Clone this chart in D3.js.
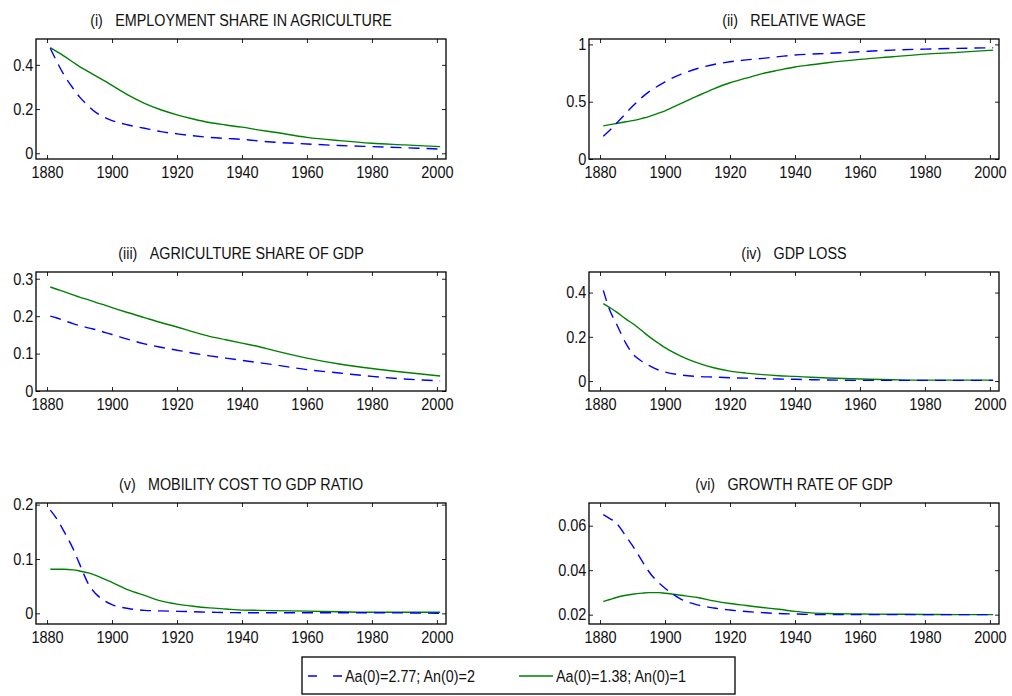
<!DOCTYPE html>
<html>
<head>
<meta charset="utf-8">
<script src="https://cdn.jsdelivr.net/npm/d3@7"></script>
<style>
  body { margin: 0; background: #fff; }
  svg { display: block; font-family: "Liberation Sans", Arial, sans-serif; }
  .tick text { font-size: 16.5px; fill: #111; }
  .title { font-size: 16.3px; fill: #111; }
  .legend-label { font-size: 16.3px; fill: #111; }
</style>
</head>
<body>
<div id="svg-container"></div>
<script>
////////////////////////////////////////////////////////////////////
////////////////////////////  Data  ////////////////////////////////
const years = [1881, 1883, 1885, 1888, 1890, 1893, 1895, 1898, 1900, 1905, 1910, 1915,
  1920, 1925, 1930, 1935, 1940, 1945, 1950, 1960, 1970, 1980, 1990, 2001];

const xTicks = [1880, 1900, 1920, 1940, 1960, 1980, 2000];

const seriesNames = ["Aa(0)=2.77; An(0)=2", "Aa(0)=1.38; An(0)=1"];

// (i) employment share in agriculture
const empHigh = [0.475, 0.415, 0.36, 0.294, 0.255, 0.21, 0.185, 0.16, 0.148, 0.128, 0.113, 0.098,
  0.088, 0.079, 0.072, 0.067, 0.063, 0.056, 0.05, 0.042, 0.035, 0.03, 0.025, 0.019];
const empLow = [0.478, 0.46, 0.442, 0.412, 0.392, 0.367, 0.35, 0.325, 0.307, 0.263, 0.226, 0.197,
  0.174, 0.155, 0.139, 0.128, 0.118, 0.106, 0.095, 0.072, 0.057, 0.045, 0.038, 0.03];

// (ii) relative wage
const wageHigh = [0.198, 0.25, 0.31, 0.4, 0.46, 0.54, 0.586, 0.64, 0.673, 0.74, 0.79, 0.825,
  0.848, 0.865, 0.878, 0.893, 0.907, 0.915, 0.921, 0.936, 0.95, 0.959, 0.965, 0.971];
const wageLow = [0.289, 0.3, 0.31, 0.325, 0.335, 0.355, 0.37, 0.4, 0.42, 0.485, 0.55, 0.612,
  0.665, 0.705, 0.745, 0.775, 0.803, 0.822, 0.84, 0.869, 0.892, 0.915, 0.93, 0.95];

// (iii) agriculture share of GDP
const agHigh = [0.2, 0.195, 0.189, 0.18, 0.175, 0.168, 0.164, 0.156, 0.151, 0.138, 0.126, 0.117,
  0.109, 0.101, 0.094, 0.088, 0.082, 0.076, 0.07, 0.057, 0.048, 0.039, 0.032, 0.027];
const agLow = [0.278, 0.272, 0.266, 0.257, 0.251, 0.243, 0.237, 0.229, 0.223, 0.209, 0.196, 0.183,
  0.171, 0.158, 0.146, 0.137, 0.128, 0.119, 0.108, 0.088, 0.072, 0.06, 0.05, 0.04];

// (iv) GDP loss
const lossHigh = [0.41, 0.32, 0.26, 0.169, 0.124, 0.088, 0.071, 0.05, 0.041, 0.027, 0.021, 0.018,
  0.015, 0.013, 0.011, 0.009, 0.008, 0.006, 0.005, 0.003, 0.003, 0.003, 0.003, 0.003];
const lossLow = [0.35, 0.332, 0.313, 0.28, 0.26, 0.226, 0.202, 0.171, 0.151, 0.112, 0.082, 0.06,
  0.045, 0.036, 0.029, 0.024, 0.021, 0.017, 0.014, 0.009, 0.006, 0.004, 0.004, 0.004];

// (v) mobility cost to GDP ratio
const mobHigh = [0.19, 0.174, 0.153, 0.119, 0.091, 0.051, 0.036, 0.022, 0.016, 0.009, 0.0055, 0.0045,
  0.0037, 0.003, 0.002, 0.0015, 0.0012, 0.0012, 0.0012, 0.001, 0.001, 0.001, 0.0008, 0];
const mobLow = [0.081, 0.081, 0.081, 0.08, 0.078, 0.074, 0.07, 0.062, 0.057, 0.043, 0.033, 0.023,
  0.017, 0.013, 0.01, 0.008, 0.006, 0.0055, 0.005, 0.004, 0.003, 0.002, 0.002, 0.002];

// (vi) growth rate of GDP
const growHigh = [0.065, 0.0632, 0.0612, 0.0552, 0.051, 0.044, 0.0394, 0.0344, 0.0319, 0.0269, 0.0244, 0.023,
  0.0221, 0.0214, 0.0209, 0.0205, 0.0203, 0.0201, 0.02, 0.02, 0.02, 0.02, 0.02, 0.02];
const growLow = [0.0259, 0.0268, 0.0277, 0.0287, 0.0292, 0.0297, 0.0299, 0.0299, 0.0296, 0.0287, 0.0277, 0.0262,
  0.025, 0.0241, 0.0232, 0.0224, 0.0215, 0.0208, 0.0205, 0.0203, 0.0202, 0.0201, 0.02, 0.02];

const panels = [
  { label: "(i)", title: "EMPLOYMENT SHARE IN AGRICULTURE", high: empHigh, low: empLow,
    yDomain: [-0.026, 0.517], yTicks: [0, 0.2, 0.4] },
  { label: "(ii)", title: "RELATIVE WAGE", high: wageHigh, low: wageLow,
    yDomain: [0, 1.047], yTicks: [0, 0.5, 1] },
  { label: "(iii)", title: "AGRICULTURE SHARE OF GDP", high: agHigh, low: agLow,
    yDomain: [0, 0.318], yTicks: [0, 0.1, 0.2, 0.3] },
  { label: "(iv)", title: "GDP LOSS", high: lossHigh, low: lossLow,
    yDomain: [-0.045, 0.493], yTicks: [0, 0.2, 0.4] },
  { label: "(v)", title: "MOBILITY COST TO GDP RATIO", high: mobHigh, low: mobLow,
    yDomain: [-0.0196, 0.203], yTicks: [0, 0.1, 0.2] },
  { label: "(vi)", title: "GROWTH RATE OF GDP", high: growHigh, low: growLow,
    yDomain: [0.0158, 0.0702], yTicks: [0.02, 0.04, 0.06] },
];

////////////////////////////////////////////////////////////////////
////////////////////////////  Layout  //////////////////////////////
const width = 1012;
const height = 696;

const colLeft = [36, 589];
const panelW = 410;
const rowTop = [39, 272, 503];
const panelH = [120, 119, 121];

// the original font is a condensed sans
const squeeze = "scale(0.88,1)";

const blue = "#0000ff";
const green = "#008000";

const svg = d3.select("#svg-container").append("svg")
  .attr("width", width)
  .attr("height", height);

const xScale = d3.scaleLinear().domain([1876.6, 2002.8]).range([0, panelW]);

panels.forEach((p, i) => {
  const col = i % 2;
  const row = Math.floor(i / 2);
  const h = panelH[row];

  const g = svg.append("g")
    .attr("transform", `translate(${colLeft[col]}, ${rowTop[row]})`);

  const yScale = d3.scaleLinear().domain(p.yDomain).range([h, 0]);

  // axes with inward ticks on all four sides
  g.append("g")
    .attr("transform", `translate(0, ${h})`)
    .call(d3.axisBottom(xScale).tickValues(xTicks).tickSize(-4).tickPadding(7).tickFormat(d3.format("d")));

  g.append("g")
    .call(d3.axisTop(xScale).tickValues(xTicks).tickSize(-4).tickFormat(""));

  g.append("g")
    .call(d3.axisLeft(yScale).tickValues(p.yTicks).tickSize(-4).tickPadding(3).tickFormat((d) => String(d)));

  g.append("g")
    .attr("transform", `translate(${panelW}, 0)`)
    .call(d3.axisRight(yScale).tickValues(p.yTicks).tickSize(-4).tickFormat(""));

  g.selectAll(".domain").remove();
  g.selectAll(".tick line").attr("stroke", "#222").attr("stroke-width", 1);
  g.selectAll(".tick text").attr("transform", squeeze);

  // frame
  g.append("rect")
    .attr("width", panelW)
    .attr("height", h)
    .attr("fill", "none")
    .attr("stroke", "#000")
    .attr("stroke-width", 1.3);

  const line = d3.line()
    .x((d, k) => xScale(years[k]))
    .y((d) => yScale(d))
    .curve(d3.curveMonotoneX);

  g.append("path")
    .datum(p.low)
    .attr("d", line)
    .attr("fill", "none")
    .attr("stroke", green)
    .attr("stroke-width", 1.4);

  g.append("path")
    .datum(p.high)
    .attr("d", line)
    .attr("fill", "none")
    .attr("stroke", blue)
    .attr("stroke-width", 1.4)
    .attr("stroke-dasharray", "11,7");

  // title
  const t = g.append("text")
    .attr("class", "title")
    .attr("transform", `translate(${panelW / 2}, -13) ${squeeze}`)
    .attr("text-anchor", "middle");
  t.append("tspan").text(p.label);
  t.append("tspan").attr("dx", 14).text(p.title);
});

////////////////////////////////////////////////////////////////////
////////////////////////////  Legend  //////////////////////////////
const legend = svg.append("g").attr("transform", "translate(302, 657)");

legend.append("rect")
  .attr("width", 433)
  .attr("height", 37)
  .attr("fill", "#fff")
  .attr("stroke", "#000")
  .attr("stroke-width", 1.3);

const legendItems = [
  { name: seriesNames[0], color: blue, dash: "9,16", x: 6 },
  { name: seriesNames[1], color: green, dash: null, x: 217 },
];

legendItems.forEach((d) => {
  legend.append("line")
    .attr("x1", d.x)
    .attr("x2", d.x + 34)
    .attr("y1", 19)
    .attr("y2", 19)
    .attr("stroke", d.color)
    .attr("stroke-width", 1.4)
    .attr("stroke-dasharray", d.dash);
  legend.append("text")
    .attr("class", "legend-label")
    .attr("transform", `translate(${d.x + 37}, 19) ${squeeze}`)
    .attr("dy", "0.35em")
    .text(d.name);
});
</script>
</body>
</html>
